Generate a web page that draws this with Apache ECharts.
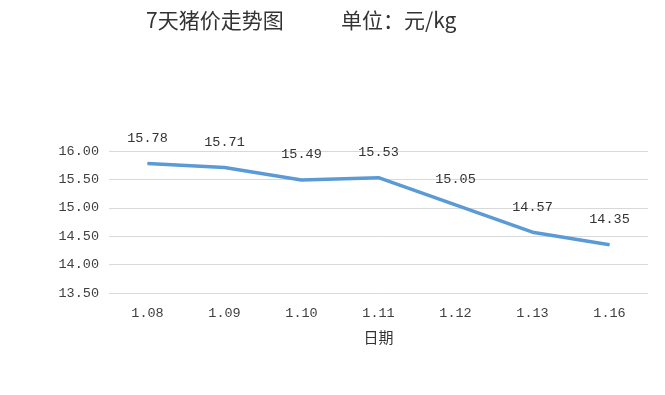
<!DOCTYPE html>
<html><head><meta charset="utf-8">
<script src="https://cdn.jsdelivr.net/npm/echarts@6/dist/echarts.min.js"></script>
<style>html,body{margin:0;padding:0;background:#fff}#c{width:665px;height:395px}</style>
</head><body><div id="c"></div>
<script>
const categories = ['1.08','1.09','1.10','1.11','1.12','1.13','1.16'];
const prices = [15.78, 15.71, 15.49, 15.53, 15.05, 14.57, 14.35];
const titleMain = '7天猪价走势图';
const titleUnit = '单位：元/kg';
const axisName = '日期';
const CJK = "'Noto Sans CJK SC', sans-serif";
const NUM = "'Liberation Mono', 'Noto Sans CJK SC', monospace";
const chart = echarts.init(document.getElementById('c'));
chart.setOption({
  animation: false,
  title: [
    { text: titleMain, left: 141, top: 5,
      textStyle: { fontFamily: CJK, fontSize: 21, fontWeight: 'normal', color: '#333' } },
    { text: titleUnit, left: 336, top: 5,
      textStyle: { fontFamily: CJK, fontSize: 21, fontWeight: 'normal', color: '#333' } }
  ],
  grid: { left: 109, right: 17, top: 151, bottom: 102, containLabel: false },
  xAxis: {
    type: 'category', data: categories, boundaryGap: true,
    name: axisName, nameLocation: 'middle', nameGap: 37,
    nameTextStyle: { fontFamily: CJK, fontSize: 15, color: '#333' },
    axisLine: { show: false }, axisTick: { show: false },
    axisLabel: { fontFamily: NUM, fontSize: 13.5, color: '#404040', margin: 14 }
  },
  yAxis: {
    type: 'value', min: 13.5, max: 16, interval: 0.5,
    axisLine: { show: false }, axisTick: { show: false },
    axisLabel: { fontFamily: NUM, fontSize: 13.5, color: '#404040', margin: 10,
      formatter: v => v.toFixed(2) },
    splitLine: { lineStyle: { color: '#d9d9d9', width: 1 } }
  },
  series: [{
    type: 'line', data: prices, symbol: 'circle', symbolSize: 1, showSymbol: true,
    itemStyle: { color: '#5B9BD5' },
    lineStyle: { color: '#5B9BD5', width: 3.5 },
    label: { show: true, position: 'top', distance: 18,
      fontFamily: NUM, fontSize: 13.5, color: '#333',
      formatter: p => p.value.toFixed(2) }
  }]
});
</script></body></html>
